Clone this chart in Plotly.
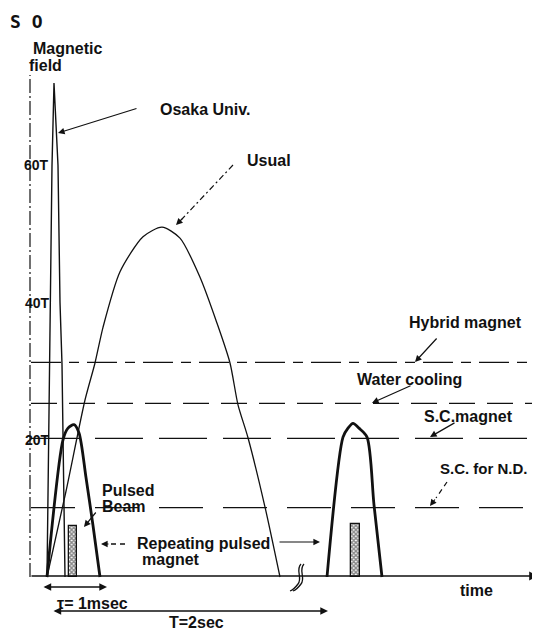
import plotly.graph_objects as go

# ---------------- data (time in diagram units, field in Tesla) ----------------
osaka_t = [17, 20, 22, 24, 28, 30, 32, 35]
osaka_b = [0, 40, 60, 72, 60, 40, 31, 0]

usual_t = [17, 36, 55, 65, 73, 90, 113, 132, 150, 170, 187, 200, 208, 218, 235, 250]
usual_b = [0, 12.5, 25.8, 31.2, 36.4, 44.5, 49.6, 51.0, 49.4, 43.7, 37.0, 31.2, 25.1, 20.3, 10.2, 0]

pulse1_t = [17, 33, 38, 44, 49, 56, 63, 70]
pulse1_b = [0, 20.0, 21.7, 22.2, 21.0, 14.5, 7.5, 0]

pulse2_t = [297, 313, 318, 323, 329, 337, 344, 352]
pulse2_b = [0, 20.4, 21.7, 22.4, 21.7, 20.4, 10.5, 0]

beam_t = [43, 325]
beam_w = [8, 9]
beam_b = [7.45, 7.7]

level_names = ["Hybrid magnet", "Water cooling", "S.C.magnet", "S.C. for N.D."]
level_b = [31.3, 25.3, 20.2, 10.1]
level_end = [502, 503, 510, 495]

tick_b = [20, 40, 60]
tick_labels = ["20T", "40T", "60T"]

# ---------------- helpers: page pixel -> data for layout positions ----------------
SCALE = 6.86
PAGE_OFF = 8   # default body margin of the html page
def X(px):
    return px - 30
def Y(py):
    return (577 - py) / SCALE

FONT = "Liberation Sans, Arial, sans-serif"
BLACK = "#111"

fig = go.Figure()

# reference levels
dashes = ["30px,8px,10px,8px", "26px,12px", "48px,16px", "44px,20px"]
for name, b, xe, d in zip(level_names, level_b, level_end, dashes):
    fig.add_trace(go.Scatter(x=[1, xe], y=[b, b], mode="lines",
                             line=dict(color=BLACK, width=1.3, dash=d),
                             hoverinfo="skip", showlegend=False))

# beams (hatched bars)
fig.add_trace(go.Bar(x=beam_t, y=beam_b, width=beam_w,
                     marker=dict(color="white", line=dict(color=BLACK, width=1.3),
                                 pattern=dict(shape="x", size=3, solidity=0.7,
                                              fgcolor=BLACK, bgcolor="white")),
                     hoverinfo="skip", showlegend=False))

# curves
fig.add_trace(go.Scatter(x=osaka_t, y=osaka_b, mode="lines",
                         line=dict(color=BLACK, width=1.4),
                         hoverinfo="skip", showlegend=False))
fig.add_trace(go.Scatter(x=usual_t, y=usual_b, mode="lines",
                         line=dict(color=BLACK, width=1.3, shape="spline", smoothing=0.7),
                         hoverinfo="skip", showlegend=False))
for pt, pb in ((pulse1_t, pulse1_b), (pulse2_t, pulse2_b)):
    fig.add_trace(go.Scatter(x=pt, y=pb, mode="lines",
                             line=dict(color=BLACK, width=2.8, shape="spline", smoothing=0.8),
                             hoverinfo="skip", showlegend=False))

shapes = []
# y axis (dash-dot thin line)
shapes.append(dict(type="line", x0=0, x1=0, y0=0, y1=Y(75), xref="x", yref="y",
                   line=dict(color=BLACK, width=1.2, dash="14px,3px,2px,3px")))
# break symbol on time axis
for off in (0, 3):
    shapes.append(dict(type="path", xref="x", yref="y",
                       path=f"M {271+off},{Y(564)} C {265+off},{Y(570)} {273+off},{Y(578)} {268+off},{Y(584)} "
                            f"C {265+off},{Y(588)} {263+off},{Y(590)} {260+off},{Y(591)}",
                       line=dict(color=BLACK, width=1.3)))
# dashed arrow shafts
shapes.append(dict(type="line", xref="x", yref="y", x0=X(233), y0=Y(165), x1=X(182), y1=Y(219),
                   line=dict(color=BLACK, width=1.2, dash="6px,3px,2px,3px")))
shapes.append(dict(type="line", xref="x", yref="y", x0=X(447), y0=Y(482), x1=X(436), y1=Y(498),
                   line=dict(color=BLACK, width=1.2, dash="5px,4px")))
shapes.append(dict(type="line", xref="x", yref="y", x0=X(125), y0=Y(544), x1=X(110), y1=Y(544),
                   line=dict(color=BLACK, width=1.3, dash="5px,4px")))

ann = []
def text(t, px, py, size=16, bold=True, family=FONT, xanchor="left"):
    ann.append(dict(text=(f"<b>{t}</b>" if bold else t), x=X(px), y=Y(py), xref="x", yref="y",
                    showarrow=False, xanchor=xanchor, yanchor="middle",
                    font=dict(family=family, size=size, color=BLACK)))

def arrow(tx, ty, hx, hy, width=1.2, side="end", head=2):
    ann.append(dict(text="", x=X(hx), y=Y(hy), ax=X(tx), ay=Y(ty), xref="x", yref="y",
                    axref="x", ayref="y", showarrow=True, arrowhead=head, arrowsize=1.1,
                    arrowwidth=width, arrowcolor=BLACK, arrowside=side, startarrowhead=head,
                    startarrowsize=1.1))

# time axis with arrow
arrow(30, 576, 538, 576, width=1.6)

# labels
text("S O", 8, 21, size=18, bold=True, family="DejaVu Sans Mono, monospace")
text("Magnetic", 31, 48)
text("field", 27, 65)
for lab, b, px in zip(tick_labels, tick_b, (23, 23, 22)):
    ann.append(dict(text=f"<b>{lab}</b>", x=X(px), y=b, xref="x", yref="y", showarrow=False,
                    xanchor="left", yanchor="middle",
                    font=dict(family=FONT, size=14, color=BLACK)))
text("Osaka Univ.", 158, 109)
text("Usual", 245, 160)
text("Hybrid magnet", 407, 322)
text("Water cooling", 355, 379)
text("S.C.magnet", 422, 416)
text("S.C. for N.D.", 438, 468, size=15)
text("Pulsed", 100, 490)
text("Beam", 100, 506)
text("Repeating pulsed", 135, 543)
text("magnet", 140, 559)
text("time", 458, 590)
text("τ= 1msec", 55, 603)
text("T=2sec", 167, 622)

# arrows
arrow(138, 108, 58, 133)                 # Osaka
arrow(184, 217, 176, 225, width=1.2)     # Usual head
arrow(438, 337, 415, 362)                # Hybrid
arrow(412, 385, 372, 403)                # Water cooling
arrow(456, 422, 430, 437)                # S.C. magnet
arrow(436, 498, 430, 506)                # S.C. for N.D. head
arrow(97, 511, 84, 527)                  # Pulsed beam
arrow(110, 544, 101, 544)                # Repeating left head
arrow(278, 542, 320, 542)                # Repeating right
arrow(42, 587, 107, 587, width=1.4, side="end+start")   # 1 msec
arrow(52, 611, 328, 611, width=1.4, side="end+start")   # T = 2 sec

# figure fills the page area that remains after the 8 px body margin
fig.update_layout(
    width=540 - PAGE_OFF, height=631 - PAGE_OFF,
    margin=dict(l=0, r=0, t=0, b=0),
    paper_bgcolor="white", plot_bgcolor="white",
    xaxis=dict(range=[X(PAGE_OFF), X(540)], visible=False, fixedrange=True),
    yaxis=dict(range=[Y(631), Y(PAGE_OFF)], visible=False, fixedrange=True),
    shapes=shapes, annotations=ann, bargap=0, showlegend=False,
)

fig.write_html("out.html")
